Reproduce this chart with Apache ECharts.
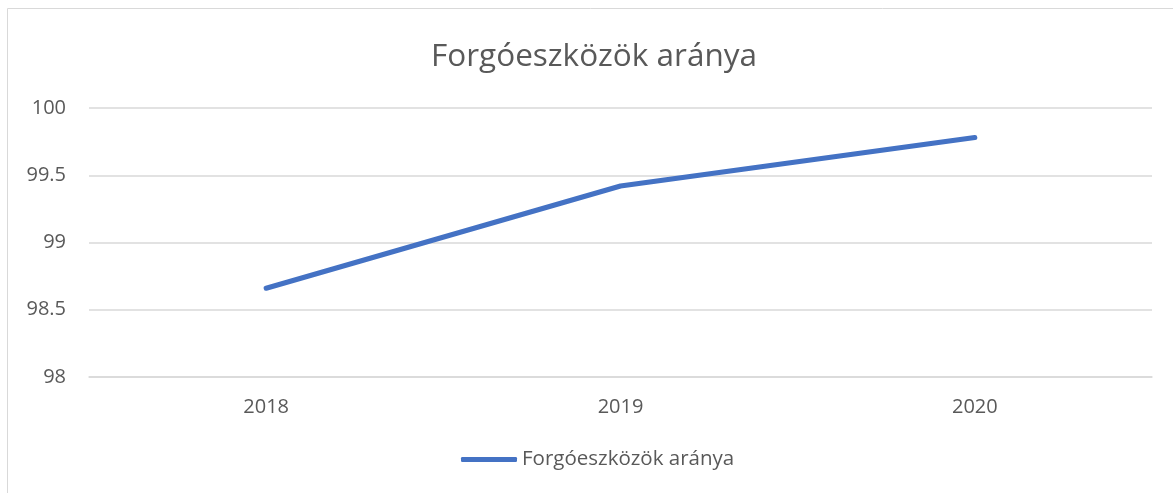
<!DOCTYPE html>
<html>
<head>
<meta charset="utf-8">
<script src="https://cdn.jsdelivr.net/npm/echarts@6/dist/echarts.min.js"></script>
<style>
  html, body { margin: 0; padding: 0; background: #fff; }
  #chart { width: 1173px; height: 493px; }
</style>
</head>
<body>
<div id="chart"></div>
<script>
var years = ['2018', '2019', '2020'];
var ratio = [98.66, 99.42, 99.78];
var seriesName = 'Forgóeszközök aránya';

var chart = echarts.init(document.getElementById('chart'));
chart.setOption({
  animation: false,
  textStyle: { fontFamily: 'Open Sans' },
  graphic: [{
    type: 'rect',
    shape: { x: 7.5, y: 8.5, width: 1200, height: 600 },
    style: { fill: 'none', stroke: '#d9d9d9', lineWidth: 1 },
    silent: true
  }],
  title: {
    text: seriesName,
    left: 426,
    top: 36,
    textStyle: { fontSize: 31.5, fontWeight: 'normal', color: '#595959', fontFamily: 'Open Sans' }
  },
  legend: {
    bottom: 18,
    left: 456,
    itemWidth: 56,
    itemHeight: 5,
    itemGap: 4,
    icon: 'roundRect',
    textStyle: { fontSize: 20.5, color: '#595959' },
    data: [seriesName]
  },
  grid: { left: 89, right: 21, top: 108, bottom: 116 },
  xAxis: {
    type: 'category',
    data: years,
    boundaryGap: true,
    axisLine: { show: true, lineStyle: { color: '#d9d9d9', width: 1.5 } },
    axisTick: { show: false },
    axisLabel: { color: '#595959', fontSize: 20, margin: 20 }
  },
  yAxis: {
    type: 'value',
    min: 98,
    max: 100,
    interval: 0.5,
    axisLine: { show: false },
    axisTick: { show: false },
    axisLabel: { color: '#595959', fontSize: 20, margin: 23 },
    splitLine: { lineStyle: { color: '#d9d9d9', width: 1.5 } }
  },
  series: [{
    name: seriesName,
    type: 'line',
    data: ratio,
    showSymbol: false,
    symbol: 'none',
    lineStyle: { color: '#4472c4', width: 5, cap: 'round', join: 'round' },
    itemStyle: { color: '#4472c4' }
  }]
});
</script>
</body>
</html>
